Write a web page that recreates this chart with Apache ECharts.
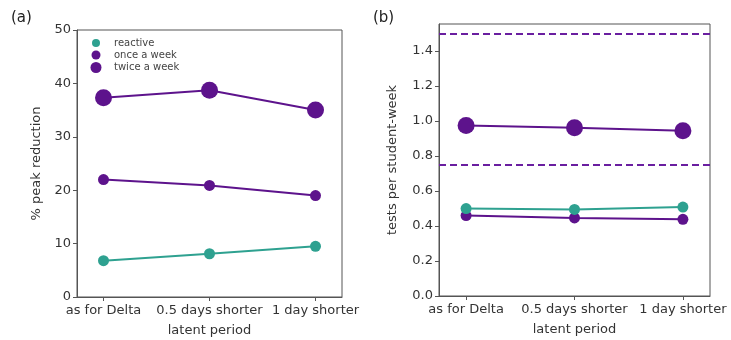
<!DOCTYPE html>
<html><head><meta charset="utf-8">
<script src="https://cdn.jsdelivr.net/npm/echarts@6/dist/echarts.min.js"></script>
<style>html,body{margin:0;padding:0;background:#fff}#c{width:731px;height:340px}</style>
</head><body><div id="c"></div>
<script>
const categories = ['as for Delta', '0.5 days shorter', '1 day shorter'];
const seriesNames = ['reactive', 'once a week', 'twice a week'];
// (a) % peak reduction
const peakReactive = [6.8, 8.1, 9.5];
const peakOnce = [22.0, 20.9, 19.0];
const peakTwice = [37.3, 38.7, 35.0];
// (b) tests per student-week
const testsReactive = [0.499, 0.494, 0.508];
const testsOnce = [0.459, 0.446, 0.438];
const testsTwice = [0.974, 0.961, 0.944];
const refLines = [1.5, 0.75];
const yTicksA = [0, 10, 20, 30, 40, 50];
const yTicksB = [0, 0.2, 0.4, 0.6, 0.8, 1.0, 1.2, 1.4];

const TEAL = '#2ea190';
const PURPLE = '#5d138c';
const FONT = 'DejaVu Sans';
const sizes = [11, 11, 17];
const colors = [TEAL, PURPLE, PURPLE];

function pts(arr) { return arr.map((v, i) => [i, v]); }

function xAxis(gridIndex) {
  return {
    type: 'value', gridIndex, min: -0.25, max: 2.25,
    name: 'latent period', nameLocation: 'middle', nameGap: 27,
    nameTextStyle: { fontFamily: FONT, fontSize: 13, color: '#333' },
    axisLine: { show: true, onZero: false, lineStyle: { color: '#555', width: 1 } },
    axisTick: { show: true, length: 4, customValues: [0, 1, 2], lineStyle: { color: '#555' } },
    axisLabel: { customValues: [0, 1, 2], margin: 7, fontFamily: FONT, fontSize: 13, color: '#333',
      formatter: v => categories[Math.round(v)] },
    splitLine: { show: false }
  };
}
function yAxis(gridIndex, min, max, ticks, name, fmt, gap) {
  return {
    type: 'value', gridIndex, min, max,
    name, nameLocation: 'middle', nameGap: gap,
    nameTextStyle: { fontFamily: FONT, fontSize: 13, color: '#333' },
    axisLine: { show: true, onZero: false, lineStyle: { color: '#555', width: 1 } },
    axisTick: { show: true, length: 4, customValues: ticks, lineStyle: { color: '#555' } },
    axisLabel: { customValues: ticks, margin: 6, fontFamily: FONT, fontSize: 13, color: '#333', formatter: fmt },
    splitLine: { show: false }
  };
}
function line(name, data, idx, k) {
  return {
    type: 'line', name, data: pts(data), xAxisIndex: idx, yAxisIndex: idx,
    symbol: 'circle', symbolSize: sizes[k], z: k === 0 ? 4 : 3,
    itemStyle: { color: colors[k] }, lineStyle: { color: colors[k], width: 2 },
    emphasis: { disabled: true }, animation: false
  };
}
function legend(k, top, sz) {
  return {
    data: [seriesNames[k]], left: 96 - sz / 2, top: top - 6, icon: 'circle',
    itemWidth: sz, itemHeight: sz, itemGap: 0, selectedMode: false,
    textStyle: { fontFamily: FONT, fontSize: 10, color: '#444', padding: [0, 0, 0, 18 - sz / 2 - 5] },
    padding: 0
  };
}

const option = {
  animation: false,
  title: [
    { text: '(a)', left: 6, top: 6, textStyle: { fontFamily: FONT, fontSize: 15, fontWeight: 'normal', color: '#222' } },
    { text: '(b)', left: 368, top: 6, textStyle: { fontFamily: FONT, fontSize: 15, fontWeight: 'normal', color: '#222' } }
  ],
  grid: [
    { left: 77, top: 30, width: 265, height: 267, show: true, borderColor: '#555', borderWidth: 1, containLabel: false, outerBoundsMode: 'none' },
    { left: 439, top: 24, width: 271, height: 272, show: true, borderColor: '#555', borderWidth: 1, containLabel: false, outerBoundsMode: 'none' }
  ],
  xAxis: [xAxis(0), xAxis(1)],
  yAxis: [
    yAxis(0, 0, 50, yTicksA, '% peak reduction', v => String(v), 34),
    yAxis(1, 0, 1.553, yTicksB, 'tests per student-week', v => v.toFixed(1), 40)
  ],
  legend: [legend(0, 44, 8), legend(1, 56, 9), legend(2, 68, 11)],
  series: [
    line(seriesNames[0], peakReactive, 0, 0),
    line(seriesNames[1], peakOnce, 0, 1),
    line(seriesNames[2], peakTwice, 0, 2),
    line(seriesNames[1], testsOnce, 1, 1),
    Object.assign(line(seriesNames[0], testsReactive, 1, 0), {
      markLine: {
        silent: true, symbol: 'none', label: { show: false },
        lineStyle: { color: '#6a1fa0', type: [7, 4], width: 2 },
        data: refLines.map(v => ({ yAxis: v }))
      }
    }),
    line(seriesNames[2], testsTwice, 1, 2)
  ]
};
const chart = echarts.init(document.getElementById('c'), null, { renderer: 'canvas' });
chart.setOption(option);
</script></body></html>
